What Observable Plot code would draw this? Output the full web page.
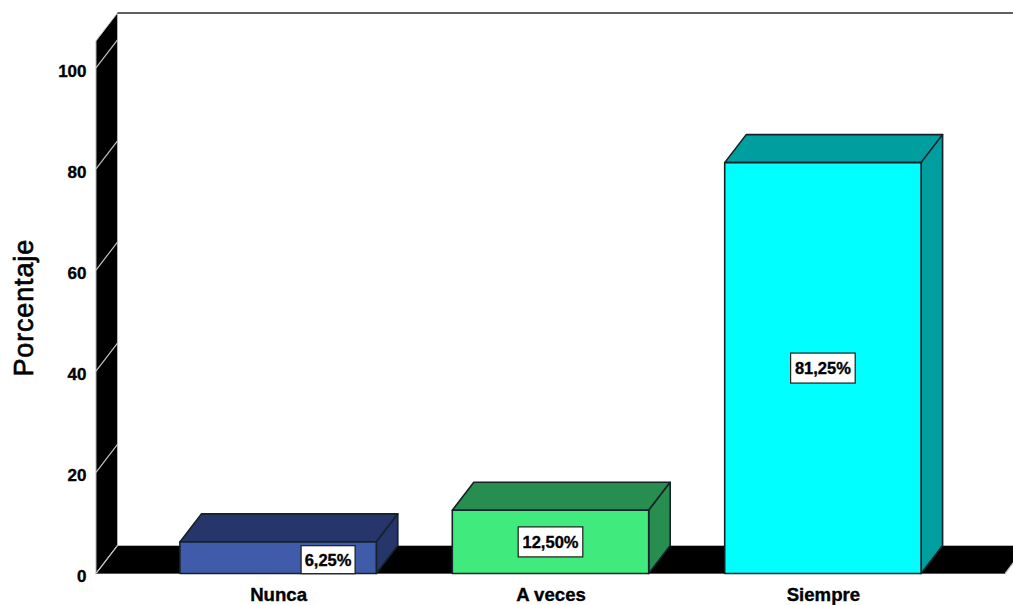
<!DOCTYPE html>
<html>
<head>
<meta charset="utf-8">
<script src="https://cdn.jsdelivr.net/npm/d3@7"></script>
<script src="https://cdn.jsdelivr.net/npm/@observablehq/plot@0.6"></script>
<style>
html,body{margin:0;padding:0;background:#fff}
svg{display:block;overflow:hidden}
g[aria-label$="tick label"] text, .value-label{stroke:#000;stroke-width:.35px}
g[aria-label="text"] text{stroke:#000;stroke-width:.65px;letter-spacing:.85px}
</style>
</head>
<body>
<div id="chart"></div>
<script>
const categories = ["Nunca", "A veces", "Siempre"];
const percentages = [6.25, 12.5, 81.25];
const valueLabels = ["6,25%", "12,50%", "81,25%"];
const yTicks = [0, 20, 40, 60, 80, 100];
const frontColors = ["#3f5ba9", "#41ea7d", "#00ffff"];
const sideColors = ["#26366b", "#288e4f", "#009e9e"];
const rows = categories.map((category, i) => ({
  category, value: percentages[i], label: valueLabels[i],
  front: frontColors[i], side: sideColors[i]
}));

const depthX = 21.5, depthY = -28;

function wall(index, scales, values, dims) {
  const g = d3.create("svg:g");
  const L = dims.marginLeft, R = dims.width - dims.marginRight;
  const T = dims.marginTop, B = dims.height - dims.marginBottom;
  g.append("polygon")
    .attr("points", [[L, B], [L + depthX, B + depthY], [L + depthX, T + depthY], [L, T]].join(" "))
    .attr("fill", "#000").attr("stroke", "#b5b5b5").attr("stroke-width", 1);
  g.append("polygon")
    .attr("points", [[L, B], [L + depthX, B + depthY], [R + depthX, B + depthY], [R, B]].join(" "))
    .attr("fill", "#000").attr("stroke", "#b5b5b5").attr("stroke-width", 1.2);
  g.append("line")
    .attr("x1", L + depthX).attr("x2", dims.width)
    .attr("y1", T + depthY).attr("y2", T + depthY)
    .attr("stroke", "#2a2a2a").attr("stroke-width", 1.6);
  g.append("line")
    .attr("x1", L).attr("x2", R).attr("y1", B).attr("y2", B)
    .attr("stroke", "#555").attr("stroke-width", 1.2);
  for (const t of yTicks) {
    const y = scales.y(t);
    g.append("line")
      .attr("x1", L).attr("y1", y)
      .attr("x2", L + depthX).attr("y2", y + depthY)
      .attr("stroke", "#c4c4c4").attr("stroke-width", 1.2);
  }
  return g.node();
}

function boxes(index, scales, values, dims) {
  const g = d3.create("svg:g")
    .attr("stroke", "#14222a").attr("stroke-width", 1.6).attr("stroke-linejoin", "round");
  const w = scales.x.bandwidth();
  const y0 = scales.y(0);
  for (const d of rows) {
    const x0 = scales.x(d.category), x1 = x0 + w, yt = scales.y(d.value);
    g.append("polygon").attr("fill", d.side)
      .attr("points", [[x0, yt], [x0 + depthX, yt + depthY], [x1 + depthX, yt + depthY], [x1, yt]].join(" "));
    g.append("polygon").attr("fill", d.side)
      .attr("points", [[x1, yt], [x1 + depthX, yt + depthY], [x1 + depthX, y0 + depthY], [x1, y0]].join(" "));
    g.append("rect").attr("fill", d.front)
      .attr("x", x0).attr("y", yt).attr("width", w).attr("height", y0 - yt);
  }
  return g.node();
}

function labels(index, scales, values, dims) {
  const g = d3.create("svg:g");
  const w = scales.x.bandwidth();
  for (const d of rows) {
    const small = d.value < 10;
    const cx = scales.x(d.category) + w / 2 + (small ? 50 : 0);
    const cy = scales.y(d.value / 2) + (small ? 2 : 0);
    const bw = d.label.length * 10.6 + 1, bh = small ? 28 : 30;
    g.append("rect")
      .attr("x", cx - bw / 2).attr("y", cy - bh / 2).attr("width", bw).attr("height", bh)
      .attr("fill", "#fff").attr("stroke", "#1c1c1c").attr("stroke-width", 1.2);
    g.append("text").attr("class", "value-label")
      .attr("x", cx).attr("y", cy).attr("dy", "0.36em").attr("text-anchor", "middle")
      .attr("font-size", 16.5).attr("font-weight", "bold").attr("fill", "#000")
      .text(d.label);
  }
  return g.node();
}

const chart = Plot.plot({
  width: 1013,
  height: 605,
  marginLeft: 96,
  marginRight: 8,
  marginTop: 41,
  marginBottom: 31.5,
  style: {fontFamily: "'Liberation Sans', Arial, sans-serif", background: "#fff"},
  x: {type: "band", domain: categories, round: false, paddingInner: 0.279, paddingOuter: 0.308, align: 0.5, label: null},
  y: {domain: [0, 105.3], label: null},
  marks: [
    Plot.ruleY(yTicks, {render: wall}),
    Plot.barY(rows, {x: "category", y: "value", render: boxes}),
    Plot.text(rows, {x: "category", y: "value", text: "label", render: labels}),
    Plot.axisY({ticks: yTicks, tickSize: 0, tickPadding: 10, dy: 3, label: null, fontSize: 17, fontWeight: "bold", fill: "#000"}),
    Plot.axisX({tickSize: 0, tickPadding: 14, label: null, fontSize: 18.6, fontWeight: "bold", fill: "#000"}),
    Plot.text(["Porcentaje"], {frameAnchor: "left", textAnchor: "middle", rotate: -90, dx: -72.6, text: d => d, fontSize: 27, fill: "#000"})
  ]
});
document.getElementById("chart").append(chart);
</script>
</body>
</html>
